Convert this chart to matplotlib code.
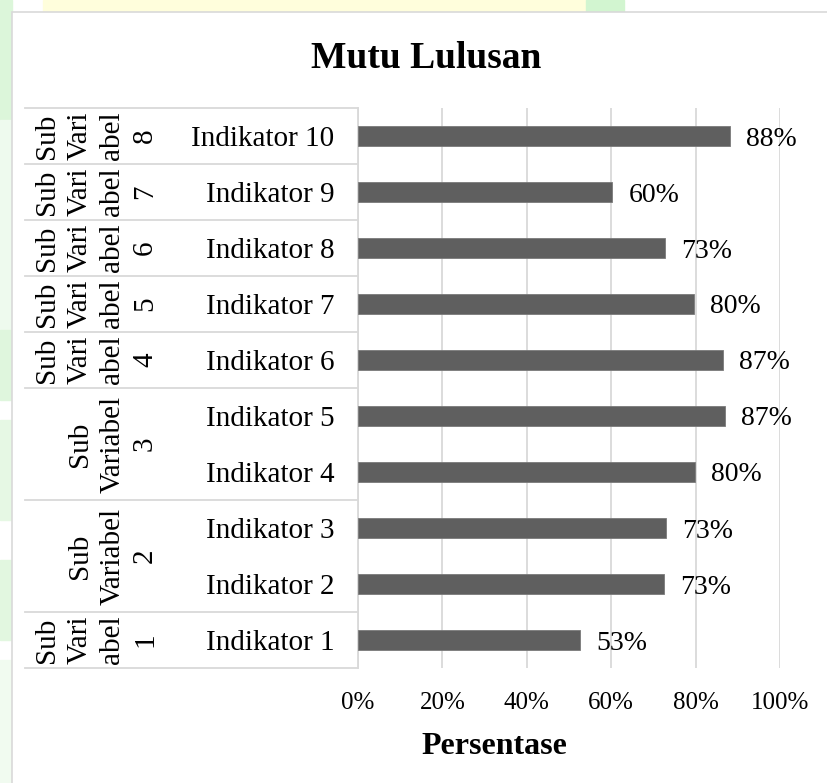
import matplotlib.pyplot as plt
from matplotlib.patches import Rectangle
import numpy as np

# data (bottom to top)
indicators = ["Indikator 1", "Indikator 2", "Indikator 3", "Indikator 4", "Indikator 5",
              "Indikator 6", "Indikator 7", "Indikator 8", "Indikator 9", "Indikator 10"]
values = [52.6, 72.6, 72.9, 79.9, 86.9, 86.6, 79.6, 72.8, 60.3, 88.1]
group_names = ["Sub\nVari\nabel\n1", "Sub\nVariabel\n2", "Sub\nVariabel\n3",
               "Sub\nVari\nabel\n4", "Sub\nVari\nabel\n5", "Sub\nVari\nabel\n6",
               "Sub\nVari\nabel\n7", "Sub\nVari\nabel\n8"]
group_sizes = [1, 2, 2, 1, 1, 1, 1, 1]
xticks = [0, 20, 40, 60, 80, 100]

W, H = 828, 783
plt.rcParams['font.family'] = ['Liberation Serif', 'DejaVu Serif']

fig = plt.figure(figsize=(W / 100, H / 100), dpi=100)

# page background around the chart box
fig.patches.append(Rectangle((0, 0), 1, 1, transform=fig.transFigure, color='white', zorder=-10))
fig.patches.append(Rectangle((43 / W, 1 - 12 / H), (586 - 43) / W, 12 / H,
                             transform=fig.transFigure, color='#fffedc', zorder=-9))
fig.patches.append(Rectangle((586 / W, 1 - 12 / H), 38 / W, 12 / H,
                             transform=fig.transFigure, color='#d2f5d0', zorder=-9))
for y0, y1, c in [(0, 120, '#dcf6da'), (120, 330, '#eefaee'), (330, 400, '#dff6dd'),
                  (420, 520, '#e6f8e4'), (560, 640, '#e2f7e0'), (660, 783, '#f1fbf0')]:
    fig.patches.append(Rectangle((0, 1 - y1 / H), 12 / W, (y1 - y0) / H,
                                 transform=fig.transFigure, color=c, zorder=-9))
# chart area
fig.patches.append(Rectangle((12 / W, -0.01), 1, 1 - 12 / H + 0.01, transform=fig.transFigure,
                             facecolor='white', edgecolor='#d9d9d9', lw=1.2, zorder=-8))

ax = fig.add_axes([358 / W, 1 - 668 / H, (780 - 358) / W, (668 - 108) / H])
ax.patch.set_alpha(0)
y = np.arange(len(indicators))
ax.barh(y, values, height=0.34, color='#5f5f5f', edgecolor='#7a7a7a', lw=0.6, zorder=3)
ax.set_xlim(0, 100)
ax.set_ylim(-0.5, len(indicators) - 0.5)

for yi, v in zip(y, values):
    ax.annotate(f"{v:.0f}%", (v, yi), xytext=(16, -3), textcoords='offset pixels',
                ha='left', va='center', fontsize=20, color='black')

ax.set_xticks(xticks)
ax.set_xticklabels([f"{t}%" for t in xticks], fontsize=18)
ax.tick_params(axis='x', length=0, pad=17)
ax.set_yticks(y)
ax.set_yticklabels(indicators, fontsize=21)
ax.tick_params(axis='y', length=0, pad=17)
ax.grid(axis='x', color='#d9d9d9', lw=1.3, zorder=0)
for s in ['top', 'right', 'bottom']:
    ax.spines[s].set_visible(False)
ax.spines['left'].set_color('#d9d9d9')
ax.spines['left'].set_linewidth(1.3)

# multi-level category table
trans = ax.get_yaxis_transform()
x_left = (25 - 358) / (780 - 358)
x_glab = (158 - 358) / (780 - 358)
edges = np.concatenate([[0], np.cumsum(group_sizes)]) - 0.5
for e in edges:
    ax.plot([x_left, 0], [e, e], transform=trans, color='#d9d9d9', lw=1.3, clip_on=False)
for name, lo, hi in zip(group_names, edges[:-1], edges[1:]):
    ax.text(x_glab, (lo + hi) / 2, name, transform=trans, rotation=90, ha='right', va='center',
            multialignment='center', linespacing=1.33, fontsize=21)

fig.text(426 / W, 1 - 58 / H, "Mutu Lulusan", ha='center', va='center', fontsize=27,
         fontweight='bold')
fig.text(494 / W, 1 - 747 / H, "Persentase", ha='center', va='center', fontsize=23,
         fontweight='bold')

fig.savefig('out.png', dpi=100)
